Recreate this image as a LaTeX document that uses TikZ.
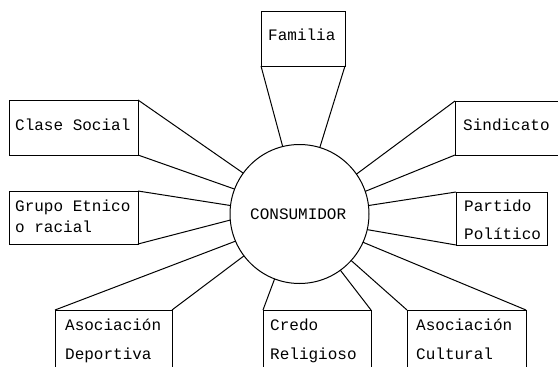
\documentclass[tikz,border=0pt]{standalone}
\usepackage{fontspec}
\setmonofont{Liberation Mono}
\begin{document}
\begin{tikzpicture}[x=1pt,y=-1pt,
  box/.style={draw,line width=1pt,rectangle,inner sep=0pt,outer sep=0pt,anchor=north west},
  lbl/.style={font=\ttfamily\fontsize{16}{18}\selectfont,inner sep=0pt,anchor=base west},
  ln/.style={line width=1pt}]
\useasboundingbox (0,0) rectangle (558,367);
\clip (0,0) rectangle (558,367);
\fill[white] (0,0) rectangle (558,367);
% centre
\node[draw,circle,line width=1pt,minimum size=139pt,inner sep=0pt,outer sep=0pt] (c) at (299.5,214) {};
\node[lbl] (ct) at (250,219) {CONSUMIDOR};
% boxes
\node[box,minimum width=84pt,minimum height=55pt] (fam) at (261,11) {};
\node[box,minimum width=129pt,minimum height=55pt] (cla) at (9,100) {};
\node[box,minimum width=112pt,minimum height=54pt] (sin) at (455,101) {};
\node[box,minimum width=129pt,minimum height=53pt] (gru) at (9,191) {};
\node[box,minimum width=91pt,minimum height=53pt] (par) at (456,192) {};
\node[box,minimum width=117pt,minimum height=80pt] (dep) at (55,310) {};
\node[box,minimum width=108pt,minimum height=80pt] (cre) at (263,310) {};
\node[box,minimum width=119pt,minimum height=80pt] (cul) at (407,310) {};
% labels
\node[lbl] (t1) at (268,40) {Familia};
\node[lbl] (t2) at (15,130) {Clase Social};
\node[lbl] (t3) at (463,130) {Sindicato};
\node[lbl] (t4a) at (15,211) {Grupo Etnico};
\node[lbl] (t4b) at (15,232) {o racial};
\node[lbl] (t5a) at (464,211) {Partido};
\node[lbl] (t5b) at (464,239) {Político};
\node[lbl] (t6a) at (65,330) {Asociación};
\node[lbl] (t6b) at (65,359) {Deportiva};
\node[lbl] (t7a) at (270,330) {Credo};
\node[lbl] (t7b) at (270,359) {Religioso};
\node[lbl] (t8a) at (416,330) {Asociación};
\node[lbl] (t8b) at (416,359) {Cultural};
% connectors
\draw[ln] (fam.south west) -- (c.104.2);
\draw[ln] (fam.south east) -- (c.73.2);
\draw[ln] (cla.north east) -- (c.144.5);
\draw[ln] (cla.south east) -- (c.159.4);
\draw[ln] (sin.north west) -- (c.35.5);
\draw[ln] (sin.south west) -- (c.19.8);
\draw[ln] (gru.north east) -- (c.173.4);
\draw[ln] (gru.south east) -- (c.185);
\draw[ln] (par.north west) -- (c.7.5);
\draw[ln] (par.south west) -- (c.347.5);
\draw[ln] (dep.north west) -- (c.203.1);
\draw[ln] (dep.north east) -- (c.217.3);
\draw[ln] (cre.north west) -- (c.249.3);
\draw[ln] (cre.north east) -- (c.306.7);
\draw[ln] (cul.north west) -- (c.318.2);
\draw[ln] (cul.north east) -- (c.336.5);
\end{tikzpicture}
\end{document}
